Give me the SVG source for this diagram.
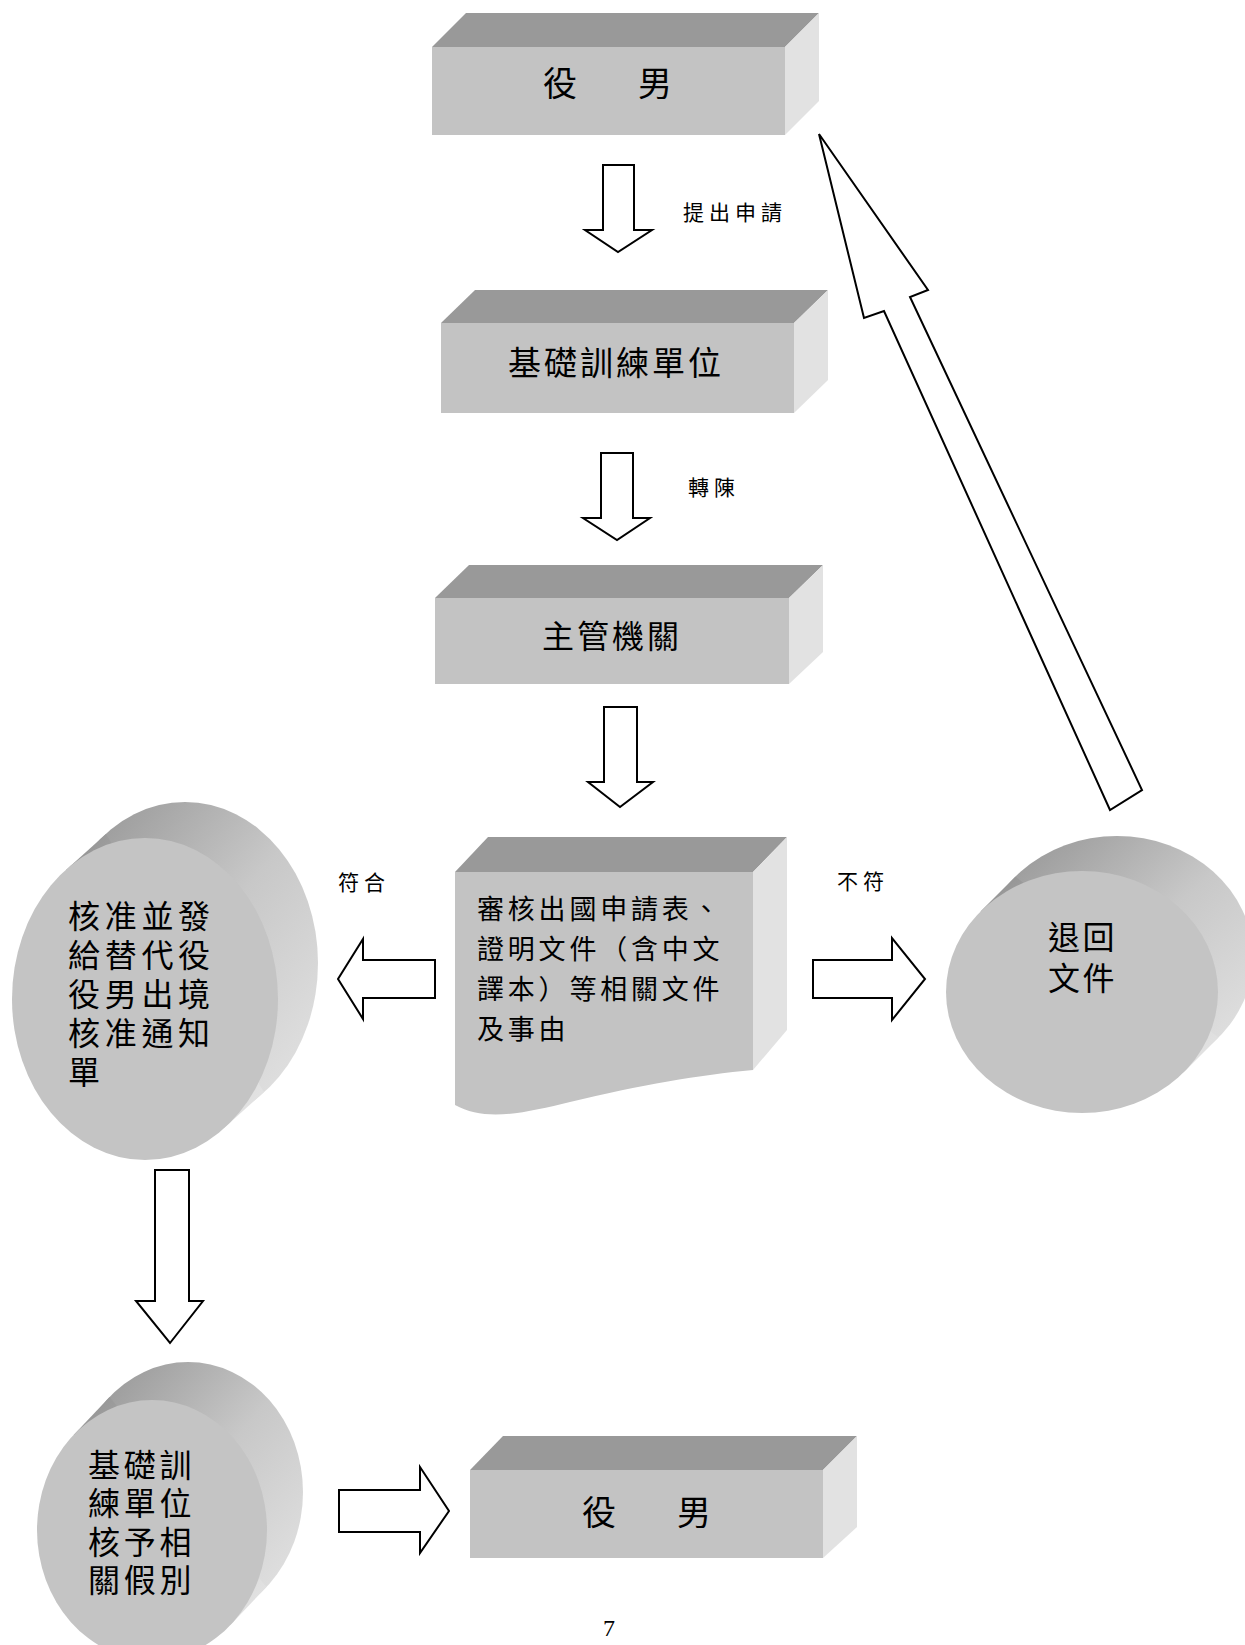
<svg xmlns="http://www.w3.org/2000/svg" width="1245" height="1645" viewBox="0 0 1245 1645">
<defs>
<style>
.top{fill:#999999}
.front{fill:#c3c3c3}
.side{fill:#e2e2e2}
.face{fill:#c4c4c4}
.arr{fill:#ffffff;stroke:#000000;stroke-width:2;stroke-linejoin:miter}
.t{font-family:"Noto Sans CJK TC","Noto Sans CJK SC",sans-serif;fill:#000000}
.lbl{font-family:"Noto Sans CJK TC","Noto Sans CJK SC",sans-serif;fill:#000000;font-size:21px;letter-spacing:5px}
</style>
<linearGradient id="ext" x1="0" y1="0" x2="1" y2="1">
<stop offset="0" stop-color="#8e8e8e"/>
<stop offset="0.5" stop-color="#c8c8c8"/>
<stop offset="1" stop-color="#e6e6e6"/>
</linearGradient>
</defs>
<rect width="1245" height="1645" fill="#ffffff"/>

<g id="box-top">
<polygon class="top" points="432,47 466,13 819,13 785,47"/>
<polygon class="side" points="785,47 819,13 819,101 785,135"/>
<rect class="front" x="432" y="47" width="353" height="88"/>
<text class="t" font-size="34" x="543" y="96">役</text>
<text class="t" font-size="34" x="638" y="96">男</text>
</g>

<g id="box-training">
<polygon class="top" points="441,323 475,290 828,290 794,323"/>
<polygon class="side" points="794,323 828,290 828,380 794,413"/>
<rect class="front" x="441" y="323" width="353" height="90"/>
<text class="t" font-size="33" letter-spacing="3" x="508" y="375">基礎訓練單位</text>
</g>

<g id="box-authority">
<polygon class="top" points="435,598 469,565 823,565 789,598"/>
<polygon class="side" points="789,598 823,565 823,652 789,684"/>
<rect class="front" x="435" y="598" width="354" height="86"/>
<text class="t" font-size="32" letter-spacing="3" x="542" y="648">主管機關</text>
</g>

<g id="doc-review">
<polygon class="top" points="455,872 488,837 787,837 753,872"/>
<polygon class="side" points="753,872 787,837 787,1030 753,1070"/>
<path class="front" d="M455,872 H753 V1070 C700,1075 640,1085 570,1102 C525,1113 485,1122 455,1105 Z"/>
<text class="t" font-size="27" letter-spacing="3.8" x="477" y="919">審核出國申請表、</text>
<text class="t" font-size="27" letter-spacing="3.8" x="477" y="959">證明文件（含中文</text>
<text class="t" font-size="27" letter-spacing="3.8" x="477" y="999">譯本）等相關文件</text>
<text class="t" font-size="27" letter-spacing="3.8" x="477" y="1039">及事由</text>
</g>

<g id="cyl-approve">
<ellipse cx="185" cy="963" rx="133" ry="161" fill="url(#ext)"/>
<polygon points="66,870 106,834 264,1092 224,1128" fill="url(#ext)"/>
<ellipse class="face" cx="145" cy="999" rx="133" ry="161"/>
<text class="t" font-size="32" letter-spacing="4.7">
<tspan x="68" y="928">核准並發</tspan>
<tspan x="68" y="967">給替代役</tspan>
<tspan x="68" y="1006">役男出境</tspan>
<tspan x="68" y="1045">核准通知</tspan>
<tspan x="68" y="1084">單</tspan>
</text>
</g>

<g id="cyl-return">
<ellipse cx="1117" cy="957" rx="136" ry="121" fill="url(#ext)"/>
<polygon points="980.5,911.5 1015.5,876.5 1218.5,1037.5 1183.5,1072.5" fill="url(#ext)"/>
<ellipse class="face" cx="1082" cy="992" rx="136" ry="121"/>
<text class="t" font-size="32" letter-spacing="2.5">
<tspan x="1048" y="949">退回</tspan>
<tspan x="1048" y="990">文件</tspan>
</text>
</g>

<g id="cyl-leave">
<ellipse cx="188" cy="1492" rx="115" ry="130" fill="url(#ext)"/>
<polygon points="73.6,1435 109.6,1397 266.4,1587 230.4,1625" fill="url(#ext)"/>
<ellipse class="face" cx="152" cy="1530" rx="115" ry="130"/>
<text class="t" font-size="32" letter-spacing="3.7">
<tspan x="88" y="1477">基礎訓</tspan>
<tspan x="88" y="1515">練單位</tspan>
<tspan x="88" y="1554">核予相</tspan>
<tspan x="88" y="1592">關假別</tspan>
</text>
</g>

<g id="box-bottom">
<polygon class="top" points="470,1470 503,1436 857,1436 823,1470"/>
<polygon class="side" points="823,1470 857,1436 857,1527 823,1558"/>
<rect class="front" x="470" y="1470" width="353" height="88"/>
<text class="t" font-size="34" x="582" y="1525">役</text>
<text class="t" font-size="34" x="677" y="1525">男</text>
</g>

<g id="connectors">
<polygon class="arr" points="603,165 634,165 634,230 652,230 618,252 585,230 603,230"/>
<polygon class="arr" points="601,453 633,453 633,518 650,518 617,540 583,518 601,518"/>
<polygon class="arr" points="604,707 637,707 637,782 653,782 620,807 588,782 604,782"/>
<polygon class="arr" points="435,960 435,998 363,998 363,1019 338,979 363,939 363,960"/>
<polygon class="arr" points="813,960 892,960 892,938 925,979 892,1020 892,998 813,998"/>
<polygon class="arr" points="155,1170 189,1170 189,1301 203,1301 170,1343 136,1301 155,1301"/>
<polygon class="arr" points="339,1490 420,1490 420,1467 449,1511 420,1553 420,1532 339,1532"/>
<polygon class="arr" points="819,134 928,290 910,297 1142,790 1110,810 884,311 864,318"/>
<text class="lbl" x="683" y="220">提出申請</text>
<text class="lbl" x="688" y="495">轉陳</text>
<text class="lbl" x="338" y="890">符合</text>
<text class="lbl" x="837" y="889">不符</text>
</g>

<text x="609" y="1636" font-family="Liberation Serif, serif" font-size="24" text-anchor="middle" fill="#000000">7</text>
</svg>
